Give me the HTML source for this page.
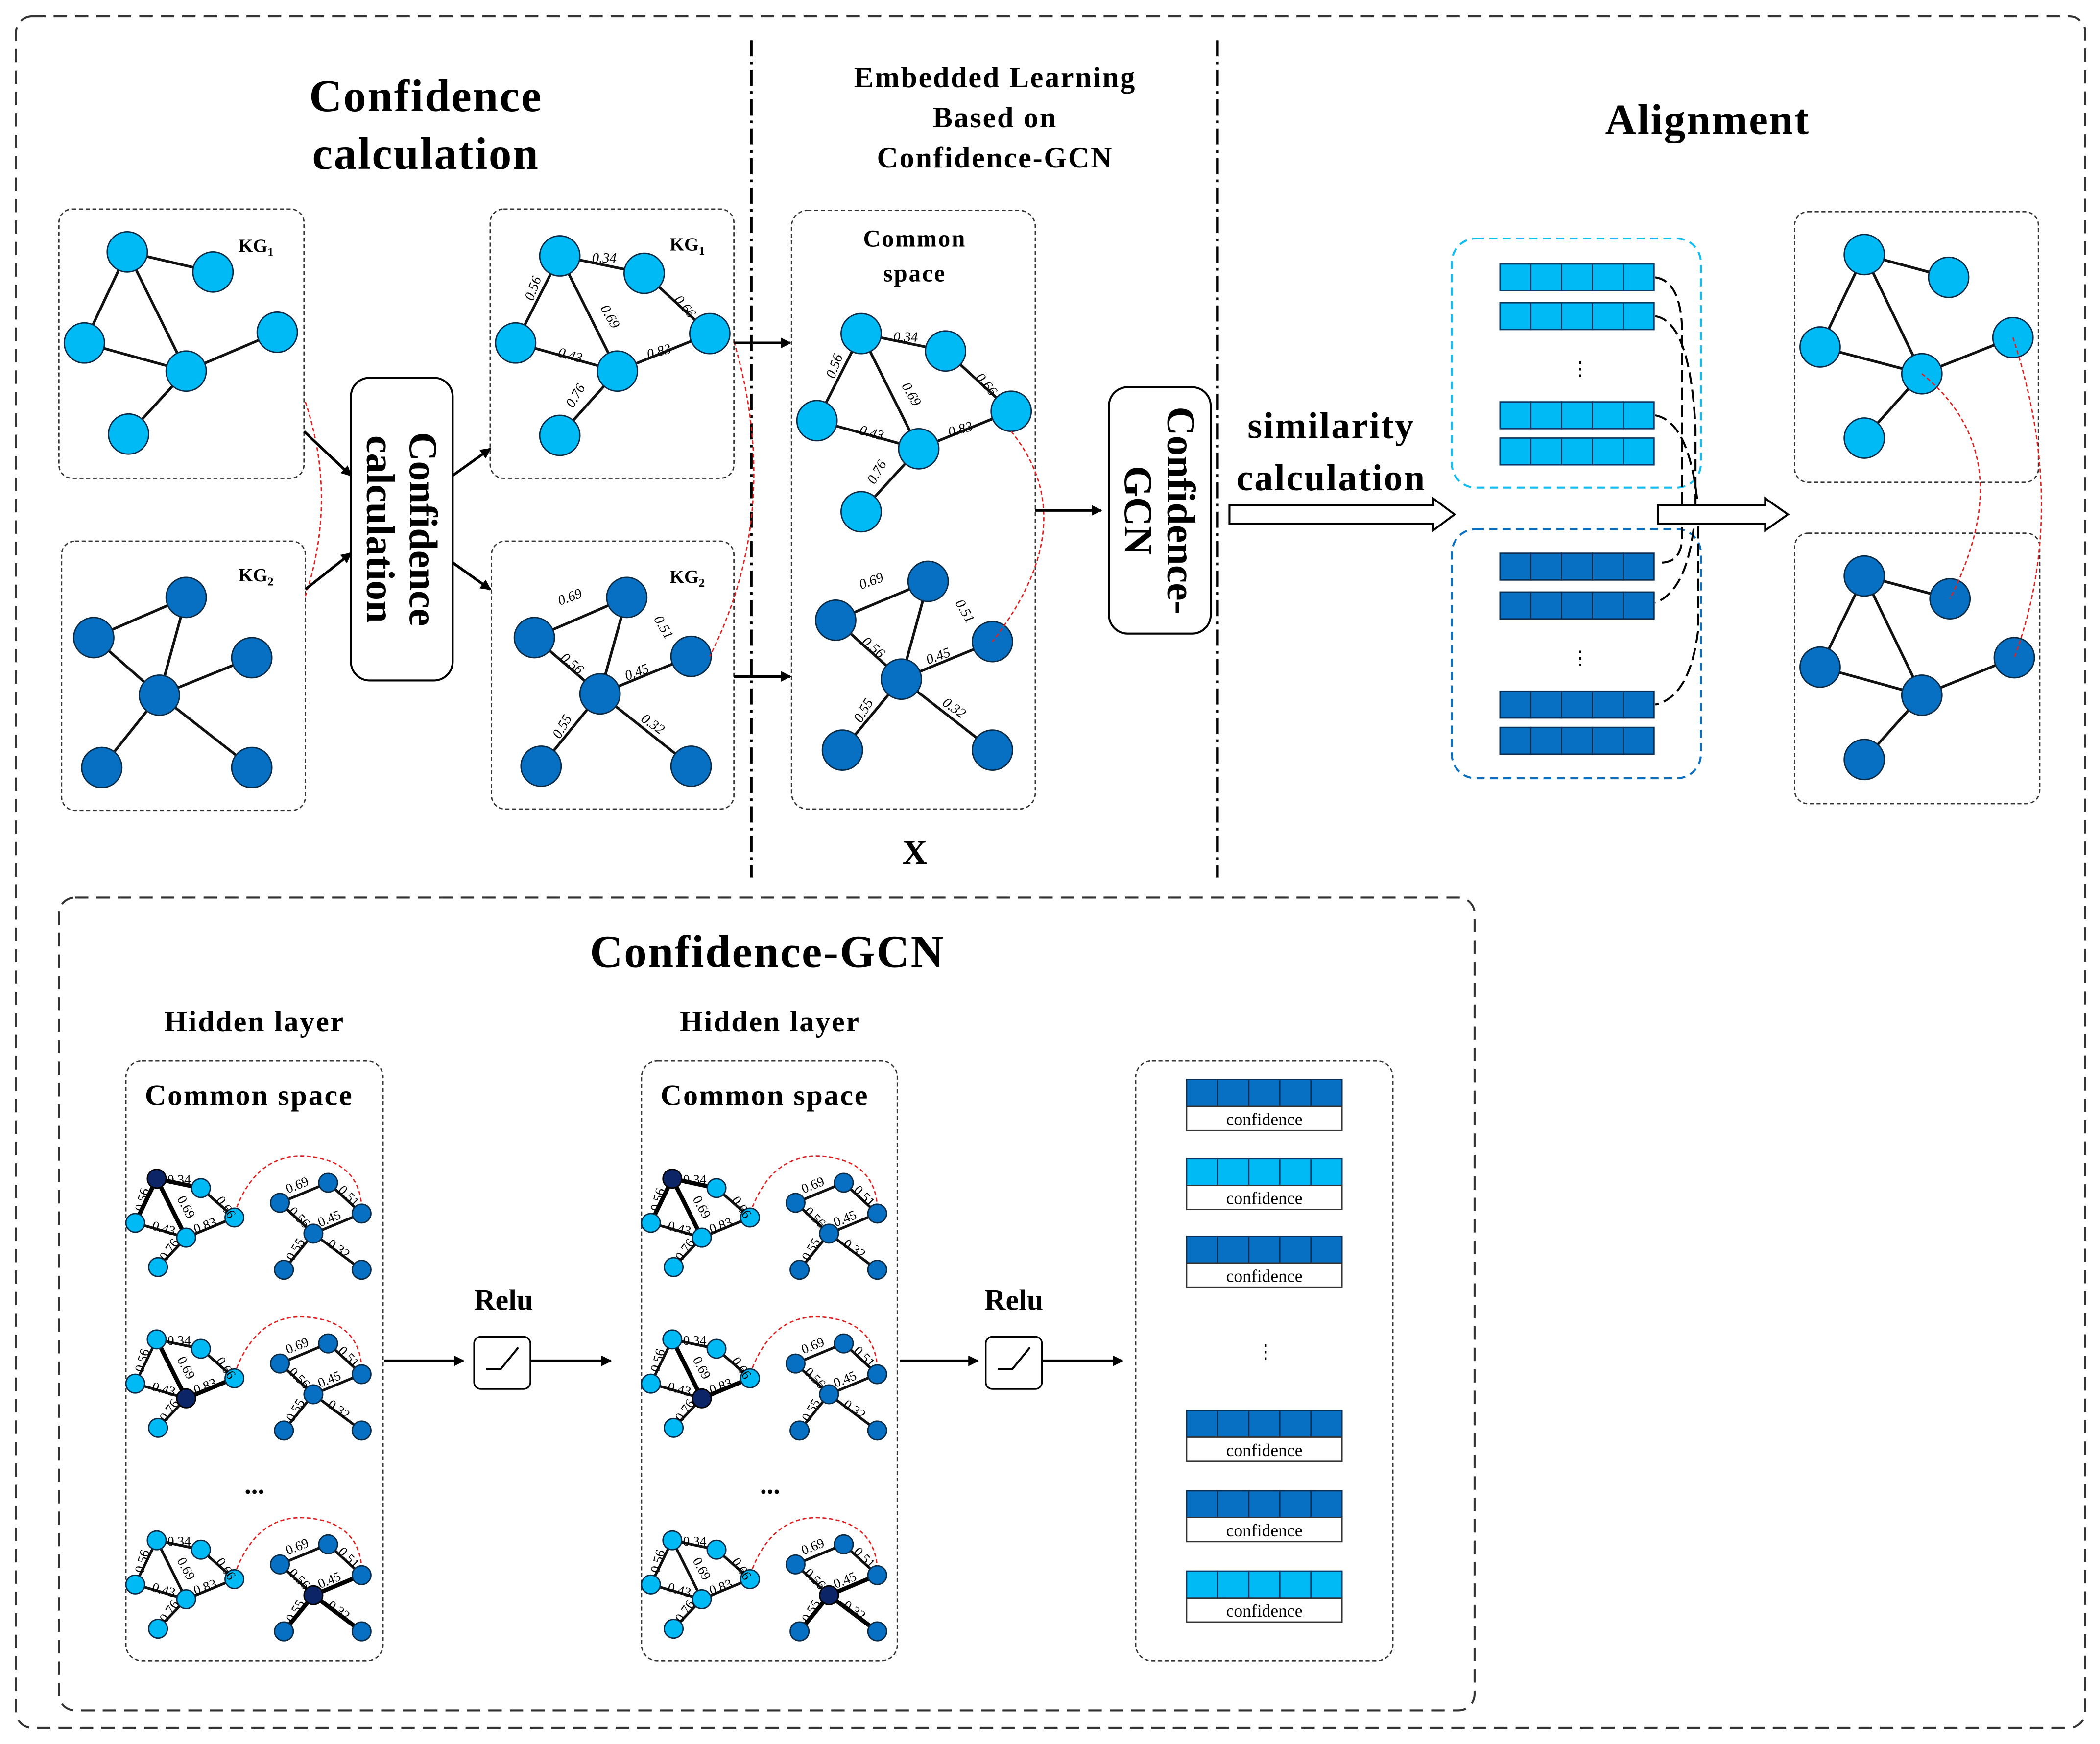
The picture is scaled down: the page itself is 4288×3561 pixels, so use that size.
<!DOCTYPE html>
<html><head><meta charset="utf-8"><style>
html,body{margin:0;padding:0;background:#fff;}
svg{display:block;}
text{font-family:"Liberation Serif",serif;fill:#000;}
.b{font-weight:bold;}
.box{fill:none;stroke:#333;stroke-width:1;stroke-dasharray:3,2;}
.e{stroke:#111;stroke-width:2;fill:none;}
.t{stroke:#000;stroke-width:3.2;fill:none;}
.L{fill:#00baf6;stroke:#0b2a44;stroke-width:1;}
.D{fill:#0770c2;stroke:#0b2a44;stroke-width:1;}
.N{fill:#0c2566;stroke:#000;stroke-width:1;}
.red{fill:none;stroke:#e02020;stroke-width:1;stroke-dasharray:3,2;}
.w{font-size:10.5px;font-style:italic;}
.m{font-size:10px;}
.ar{stroke:#000;stroke-width:2;fill:none;marker-end:url(#ah);}
.vl rect{fill:#00baf6;stroke:#0b3a66;stroke-width:1;}
.vd rect{fill:#0770c2;stroke:#0b2f55;stroke-width:1;}
</style></head><body>
<svg width="4288" height="3561" viewBox="0 0 1568 1302" xmlns="http://www.w3.org/2000/svg">
<defs><marker id="ah" markerWidth="8" markerHeight="8" refX="7" refY="4" orient="auto" markerUnits="userSpaceOnUse"><path d="M0,0 L8,4 L0,8 z" fill="#000"/></marker></defs>
<rect width="1568" height="1302" fill="#fff"/>
<rect x="12" y="12" width="1545" height="1278" rx="12" fill="none" stroke="#333" stroke-width="1.5" stroke-dasharray="10,6"/>
<line x1="561" y1="30" x2="561" y2="655" stroke="#000" stroke-width="2" stroke-dasharray="12,4,2,4"/>
<line x1="909" y1="30" x2="909" y2="655" stroke="#000" stroke-width="2" stroke-dasharray="12,4,2,4"/>

<text x="318" y="83" class="b" font-size="34" text-anchor="middle" letter-spacing="1">Confidence</text>
<text x="318" y="126" class="b" font-size="34" text-anchor="middle" letter-spacing="1">calculation</text>
<text x="743" y="65" class="b" font-size="22" text-anchor="middle" letter-spacing="1">Embedded Learning</text>
<text x="743" y="95" class="b" font-size="22" text-anchor="middle" letter-spacing="1">Based on</text>
<text x="743" y="125" class="b" font-size="22" text-anchor="middle" letter-spacing="1">Confidence-GCN</text>
<text x="1275" y="100" class="b" font-size="32" text-anchor="middle" letter-spacing="1">Alignment</text>

<!-- KG1 -->
<rect class="box" x="44" y="156" width="183" height="201" rx="10"/>
<path class="e" d="M95,188L159,203M95,188L63,256M95,188L139,277M63,256L139,277M139,277L207,248M139,277L96,324"/>
<g class="L"><circle cx="95" cy="188" r="15"/><circle cx="159" cy="203" r="15"/><circle cx="207" cy="248" r="15"/><circle cx="63" cy="256" r="15"/><circle cx="139" cy="277" r="15"/><circle cx="96" cy="324" r="15"/></g>
<text x="178" y="188" class="b" font-size="14">KG<tspan font-size="9" dy="3">1</tspan></text>
<!-- KG2 -->
<rect class="box" x="46" y="404" width="182" height="201" rx="10"/>
<path class="e" d="M70,476L139,446M139,446L119,519M70,476L119,519M119,519L188,491M119,519L76,573M119,519L188,573"/>
<g class="D"><circle cx="139" cy="446" r="15"/><circle cx="70" cy="476" r="15"/><circle cx="188" cy="491" r="15"/><circle cx="119" cy="519" r="15"/><circle cx="76" cy="573" r="15"/><circle cx="188" cy="573" r="15"/></g>
<text x="178" y="434" class="b" font-size="14">KG<tspan font-size="9" dy="3">2</tspan></text>
<path class="red" d="M228,300 Q252,372 228,445"/>

<rect x="262" y="282" width="76" height="226" rx="14" fill="#fff" stroke="#000" stroke-width="1.5"/>
<text transform="translate(300,395) rotate(90)" class="b" font-size="30" text-anchor="middle"><tspan x="0" y="-6">Confidence</tspan><tspan x="0" y="26">calculation</tspan></text>
<line class="ar" x1="227" y1="322" x2="262" y2="355"/>
<line class="ar" x1="228" y1="440" x2="262" y2="413"/>
<line class="ar" x1="338" y1="355" x2="366" y2="335"/>
<line class="ar" x1="338" y1="420" x2="366" y2="440"/>

<!-- weighted KG1 -->
<rect class="box" x="366" y="156" width="182" height="201" rx="10"/>
<path class="e" d="M418,191L481,204M418,191L385,256M418,191L461,277M385,256L461,277M461,277L530,249M461,277L418,325M481,204L530,249"/>
<g class="L"><circle cx="418" cy="191" r="15"/><circle cx="481" cy="204" r="15"/><circle cx="530" cy="249" r="15"/><circle cx="385" cy="256" r="15"/><circle cx="461" cy="277" r="15"/><circle cx="418" cy="325" r="15"/></g>
<text x="500" y="187" class="b" font-size="14">KG<tspan font-size="9" dy="3">1</tspan></text>
<g class="w"><text x="442" y="196">0.34</text><text transform="translate(398,225) rotate(-70)">0.56</text><text transform="translate(448,230) rotate(60)">0.69</text><text transform="translate(503,224) rotate(50)">0.66</text><text x="416" y="266" transform="rotate(15,416,266)">0.43</text><text x="484" y="268" transform="rotate(-15,484,268)">0.83</text><text transform="translate(428,305) rotate(-60)">0.76</text></g>
<!-- weighted KG2 -->
<rect class="box" x="367" y="404" width="181" height="200" rx="10"/>
<path class="e" d="M399,476L468,446M468,446L448,518M399,476L448,518M448,518L516,490M448,518L404,572M448,518L516,572"/>
<g class="D"><circle cx="468" cy="446" r="15"/><circle cx="399" cy="476" r="15"/><circle cx="516" cy="490" r="15"/><circle cx="448" cy="518" r="15"/><circle cx="404" cy="572" r="15"/><circle cx="516" cy="572" r="15"/></g>
<text x="500" y="435" class="b" font-size="14">KG<tspan font-size="9" dy="3">2</tspan></text>
<g class="w"><text x="418" y="452" transform="rotate(-20,418,452)">0.69</text><text transform="translate(488,462) rotate(60)">0.51</text><text transform="translate(418,492) rotate(40)">0.56</text><text x="468" y="508" transform="rotate(-20,468,508)">0.45</text><text transform="translate(418,552) rotate(-60)">0.55</text><text transform="translate(478,538) rotate(35)">0.32</text></g>
<path class="red" d="M548,255 Q585,380 530,490"/>
<line class="ar" x1="548" y1="256" x2="590" y2="256"/>
<line class="ar" x1="548" y1="505" x2="590" y2="505"/>

<!-- common space -->
<rect class="box" x="591" y="157" width="182" height="447" rx="12"/>
<text x="683" y="184" class="b" font-size="18" text-anchor="middle" letter-spacing="1">Common</text>
<text x="683" y="210" class="b" font-size="18" text-anchor="middle" letter-spacing="1">space</text>
<path class="e" d="M643,249L706,262M643,249L610,314M643,249L686,335M610,314L686,335M686,335L755,307M686,335L643,382M706,262L755,307"/>
<g class="L"><circle cx="643" cy="249" r="15"/><circle cx="706" cy="262" r="15"/><circle cx="755" cy="307" r="15"/><circle cx="610" cy="314" r="15"/><circle cx="686" cy="335" r="15"/><circle cx="643" cy="382" r="15"/></g>
<g class="w"><text x="667" y="255">0.34</text><text transform="translate(623,283) rotate(-70)">0.56</text><text transform="translate(673,288) rotate(60)">0.69</text><text transform="translate(728,282) rotate(50)">0.66</text><text x="641" y="324" transform="rotate(15,641,324)">0.43</text><text x="709" y="326" transform="rotate(-15,709,326)">0.83</text><text transform="translate(653,362) rotate(-60)">0.76</text></g>
<path class="e" d="M624,463L693,434M693,434L673,507M624,463L673,507M673,507L741,479M673,507L629,560M673,507L741,560"/>
<g class="D"><circle cx="693" cy="434" r="15"/><circle cx="624" cy="463" r="15"/><circle cx="741" cy="479" r="15"/><circle cx="673" cy="507" r="15"/><circle cx="629" cy="560" r="15"/><circle cx="741" cy="560" r="15"/></g>
<g class="w"><text x="643" y="440" transform="rotate(-20,643,440)">0.69</text><text transform="translate(713,450) rotate(60)">0.51</text><text transform="translate(643,480) rotate(40)">0.56</text><text x="693" y="496" transform="rotate(-20,693,496)">0.45</text><text transform="translate(643,540) rotate(-60)">0.55</text><text transform="translate(703,526) rotate(35)">0.32</text></g>
<path class="red" d="M755,322 Q810,390 741,479"/>
<text x="683" y="645" class="b" font-size="26" text-anchor="middle">X</text>
<line class="ar" x1="773" y1="381" x2="822" y2="381"/>

<rect x="828" y="289" width="76" height="184" rx="14" fill="#fff" stroke="#000" stroke-width="1.5"/>
<text transform="translate(866,381) rotate(90)" class="b" font-size="30" text-anchor="middle"><tspan x="0" y="-6">Confidence-</tspan><tspan x="0" y="26">GCN</tspan></text>
<text x="994" y="327" class="b" font-size="28" text-anchor="middle" letter-spacing="1">similarity</text>
<text x="994" y="366" class="b" font-size="28" text-anchor="middle" letter-spacing="1">calculation</text>
<path d="M918,377 L1070,377 L1070,372 L1086,384 L1070,396 L1070,391 L918,391 Z" fill="#fff" stroke="#000" stroke-width="1.5"/>

<!-- vectors -->
<rect x="1084" y="178" width="186" height="186" rx="18" fill="none" stroke="#13bdf2" stroke-width="1.5" stroke-dasharray="6,4"/>
<rect x="1084" y="395" width="186" height="186" rx="18" fill="none" stroke="#0a6fc0" stroke-width="1.5" stroke-dasharray="6,4"/>
<g class="vl"><g><rect x="1120" y="197" width="23" height="20"/><rect x="1143" y="197" width="23" height="20"/><rect x="1166" y="197" width="23" height="20"/><rect x="1189" y="197" width="23" height="20"/><rect x="1212" y="197" width="23" height="20"/></g>
<g transform="translate(0,29)"><rect x="1120" y="197" width="23" height="20"/><rect x="1143" y="197" width="23" height="20"/><rect x="1166" y="197" width="23" height="20"/><rect x="1189" y="197" width="23" height="20"/><rect x="1212" y="197" width="23" height="20"/></g>
<g transform="translate(0,103)"><rect x="1120" y="197" width="23" height="20"/><rect x="1143" y="197" width="23" height="20"/><rect x="1166" y="197" width="23" height="20"/><rect x="1189" y="197" width="23" height="20"/><rect x="1212" y="197" width="23" height="20"/></g>
<g transform="translate(0,130)"><rect x="1120" y="197" width="23" height="20"/><rect x="1143" y="197" width="23" height="20"/><rect x="1166" y="197" width="23" height="20"/><rect x="1189" y="197" width="23" height="20"/><rect x="1212" y="197" width="23" height="20"/></g></g>
<g class="vd"><g transform="translate(0,216)"><rect x="1120" y="197" width="23" height="20"/><rect x="1143" y="197" width="23" height="20"/><rect x="1166" y="197" width="23" height="20"/><rect x="1189" y="197" width="23" height="20"/><rect x="1212" y="197" width="23" height="20"/></g>
<g transform="translate(0,245)"><rect x="1120" y="197" width="23" height="20"/><rect x="1143" y="197" width="23" height="20"/><rect x="1166" y="197" width="23" height="20"/><rect x="1189" y="197" width="23" height="20"/><rect x="1212" y="197" width="23" height="20"/></g>
<g transform="translate(0,319)"><rect x="1120" y="197" width="23" height="20"/><rect x="1143" y="197" width="23" height="20"/><rect x="1166" y="197" width="23" height="20"/><rect x="1189" y="197" width="23" height="20"/><rect x="1212" y="197" width="23" height="20"/></g>
<g transform="translate(0,346)"><rect x="1120" y="197" width="23" height="20"/><rect x="1143" y="197" width="23" height="20"/><rect x="1166" y="197" width="23" height="20"/><rect x="1189" y="197" width="23" height="20"/><rect x="1212" y="197" width="23" height="20"/></g></g>
<text x="1180" y="280" font-size="14" fill="#13bdf2" text-anchor="middle">⋮</text>
<text x="1180" y="496" font-size="14" fill="#0a6fc0" text-anchor="middle">⋮</text>
<g fill="none" stroke="#000" stroke-width="1.5" stroke-dasharray="9,4">
<path d="M1236,207 Q1256,210 1256,250 L1256,400 Q1256,420 1240,420"/>
<path d="M1236,236 Q1262,240 1266,320 L1266,380 Q1262,440 1236,450"/>
<path d="M1236,310 Q1262,315 1268,380"/>
<path d="M1268,380 L1268,470 Q1262,520 1236,526"/>
</g>
<path d="M1238,377 L1318,377 L1318,372 L1335,384 L1318,396 L1318,391 L1238,391 Z" fill="#fff" stroke="#000" stroke-width="1.5"/>

<!-- aligned -->
<rect class="box" x="1340" y="158" width="182" height="202" rx="10"/>
<path class="e" d="M1392,190L1455,207M1392,190L1359,259M1392,190L1435,279M1359,259L1435,279M1435,279L1503,252M1435,279L1392,327"/>
<g class="L"><circle cx="1392" cy="190" r="15"/><circle cx="1455" cy="207" r="15"/><circle cx="1503" cy="252" r="15"/><circle cx="1359" cy="259" r="15"/><circle cx="1435" cy="279" r="15"/><circle cx="1392" cy="327" r="15"/></g>
<rect class="box" x="1340" y="398" width="183" height="202" rx="10"/>
<path class="e" d="M1392,430L1359,498M1392,430L1456,447M1392,430L1435,519M1359,498L1435,519M1435,519L1504,491M1435,519L1392,567"/>
<g class="D"><circle cx="1392" cy="430" r="15"/><circle cx="1456" cy="447" r="15"/><circle cx="1359" cy="498" r="15"/><circle cx="1504" cy="491" r="15"/><circle cx="1435" cy="519" r="15"/><circle cx="1392" cy="567" r="15"/></g>
<path class="red" d="M1435,279 Q1510,340 1456,447"/>
<path class="red" d="M1503,252 Q1545,380 1504,491"/>

<!-- bottom -->
<rect x="44" y="670" width="1057" height="607" rx="12" fill="none" stroke="#333" stroke-width="1.5" stroke-dasharray="10,6"/>
<text x="573" y="722" class="b" font-size="34" text-anchor="middle" letter-spacing="1">Confidence-GCN</text>
<text x="190" y="770" class="b" font-size="22" text-anchor="middle" letter-spacing="1">Hidden layer</text>
<text x="575" y="770" class="b" font-size="22" text-anchor="middle" letter-spacing="1">Hidden layer</text>
<rect class="box" x="94" y="792" width="192" height="448" rx="12"/>
<rect class="box" x="479" y="792" width="191" height="448" rx="12"/>
<text x="186" y="825" class="b" font-size="22" text-anchor="middle" letter-spacing="1">Common space</text>
<text x="571" y="825" class="b" font-size="22" text-anchor="middle" letter-spacing="1">Common space</text>
<text x="190" y="1115" class="b" font-size="20" text-anchor="middle">...</text>
<text x="575" y="1115" class="b" font-size="20" text-anchor="middle">...</text>

<!-- mini graph type A (highlight top-left light node) -->
<g transform="translate(94,860)">
<path class="e" d="M7,53L45,64M45,64L81,49M45,64L24,86M56,27L81,49M115,38L151,23M151,23L176,46M115,38L140,61M140,61L176,46M140,61L118,88M140,61L176,88"/>
<path class="t" d="M23,20L56,27M23,20L7,53M23,20L45,64"/>
<path class="red" d="M81,46 Q100,-8 150,6 Q174,14 176,40"/>
<g class="L"><circle cx="56" cy="27" r="7"/><circle cx="81" cy="49" r="7"/><circle cx="7" cy="53" r="7"/><circle cx="45" cy="64" r="7"/><circle cx="24" cy="86" r="7"/></g><circle class="N" cx="23" cy="20" r="7"/>
<g class="D"><circle cx="151" cy="23" r="7"/><circle cx="115" cy="38" r="7"/><circle cx="176" cy="46" r="7"/><circle cx="140" cy="61" r="7"/><circle cx="118" cy="88" r="7"/><circle cx="176" cy="88" r="7"/></g>
<g class="m"><text x="31" y="24">0.34</text><text transform="translate(13,45) rotate(-75)">0.56</text><text transform="translate(38,35) rotate(62)">0.69</text><text transform="translate(67,36) rotate(55)">0.66</text><text x="19" y="58" transform="rotate(15,19,58)">0.43</text><text x="52" y="61" transform="rotate(-20,52,61)">0.83</text><text transform="translate(30,82) rotate(-55)">0.76</text><text x="121" y="31" transform="rotate(-22,121,31)">0.69</text><text transform="translate(158,29) rotate(45)">0.51</text><text transform="translate(121,45) rotate(45)">0.56</text><text x="145" y="56" transform="rotate(-22,145,56)">0.45</text><text transform="translate(125,82) rotate(-60)">0.55</text><text transform="translate(150,70) rotate(35)">0.32</text></g>
</g>
<!-- type B (highlight center light node) -->
<g transform="translate(94,980)">
<path class="e" d="M23,20L56,27M23,20L7,53M7,53L45,64M45,64L24,86M56,27L81,49M115,38L151,23M151,23L176,46M115,38L140,61M140,61L176,46M140,61L118,88M140,61L176,88"/>
<path class="t" d="M23,20L45,64M45,64L81,49"/>
<path class="red" d="M81,46 Q100,-8 150,6 Q174,14 176,40"/>
<g class="L"><circle cx="23" cy="20" r="7"/><circle cx="56" cy="27" r="7"/><circle cx="81" cy="49" r="7"/><circle cx="7" cy="53" r="7"/><circle cx="24" cy="86" r="7"/></g><circle class="N" cx="45" cy="64" r="7"/>
<g class="D"><circle cx="151" cy="23" r="7"/><circle cx="115" cy="38" r="7"/><circle cx="176" cy="46" r="7"/><circle cx="140" cy="61" r="7"/><circle cx="118" cy="88" r="7"/><circle cx="176" cy="88" r="7"/></g>
<g class="m"><text x="31" y="24">0.34</text><text transform="translate(13,45) rotate(-75)">0.56</text><text transform="translate(38,35) rotate(62)">0.69</text><text transform="translate(67,36) rotate(55)">0.66</text><text x="19" y="58" transform="rotate(15,19,58)">0.43</text><text x="52" y="61" transform="rotate(-20,52,61)">0.83</text><text transform="translate(30,82) rotate(-55)">0.76</text><text x="121" y="31" transform="rotate(-22,121,31)">0.69</text><text transform="translate(158,29) rotate(45)">0.51</text><text transform="translate(121,45) rotate(45)">0.56</text><text x="145" y="56" transform="rotate(-22,145,56)">0.45</text><text transform="translate(125,82) rotate(-60)">0.55</text><text transform="translate(150,70) rotate(35)">0.32</text></g>
</g>
<!-- type C (highlight dark center) -->
<g transform="translate(94,1130)">
<path class="e" d="M23,20L56,27M23,20L7,53M23,20L45,64M7,53L45,64M45,64L81,49M45,64L24,86M56,27L81,49M115,38L151,23M151,23L176,46M115,38L140,61"/>
<path class="t" d="M140,61L176,46M140,61L118,88M140,61L176,88"/>
<path class="red" d="M81,46 Q100,-8 150,6 Q174,14 176,40"/>
<g class="L"><circle cx="23" cy="20" r="7"/><circle cx="56" cy="27" r="7"/><circle cx="81" cy="49" r="7"/><circle cx="7" cy="53" r="7"/><circle cx="45" cy="64" r="7"/><circle cx="24" cy="86" r="7"/></g>
<g class="D"><circle cx="151" cy="23" r="7"/><circle cx="115" cy="38" r="7"/><circle cx="176" cy="46" r="7"/><circle cx="118" cy="88" r="7"/><circle cx="176" cy="88" r="7"/></g><circle class="N" cx="140" cy="61" r="7"/>
<g class="m"><text x="31" y="24">0.34</text><text transform="translate(13,45) rotate(-75)">0.56</text><text transform="translate(38,35) rotate(62)">0.69</text><text transform="translate(67,36) rotate(55)">0.66</text><text x="19" y="58" transform="rotate(15,19,58)">0.43</text><text x="52" y="61" transform="rotate(-20,52,61)">0.83</text><text transform="translate(30,82) rotate(-55)">0.76</text><text x="121" y="31" transform="rotate(-22,121,31)">0.69</text><text transform="translate(158,29) rotate(45)">0.51</text><text transform="translate(121,45) rotate(45)">0.56</text><text x="145" y="56" transform="rotate(-22,145,56)">0.45</text><text transform="translate(125,82) rotate(-60)">0.55</text><text transform="translate(150,70) rotate(35)">0.32</text></g>
</g>
<!-- second column -->
<g transform="translate(479,860)">
<path class="e" d="M7,53L45,64M45,64L81,49M45,64L24,86M56,27L81,49M115,38L151,23M151,23L176,46M115,38L140,61M140,61L176,46M140,61L118,88M140,61L176,88"/>
<path class="t" d="M23,20L56,27M23,20L7,53M23,20L45,64"/>
<path class="red" d="M81,46 Q100,-8 150,6 Q174,14 176,40"/>
<g class="L"><circle cx="56" cy="27" r="7"/><circle cx="81" cy="49" r="7"/><circle cx="7" cy="53" r="7"/><circle cx="45" cy="64" r="7"/><circle cx="24" cy="86" r="7"/></g><circle class="N" cx="23" cy="20" r="7"/>
<g class="D"><circle cx="151" cy="23" r="7"/><circle cx="115" cy="38" r="7"/><circle cx="176" cy="46" r="7"/><circle cx="140" cy="61" r="7"/><circle cx="118" cy="88" r="7"/><circle cx="176" cy="88" r="7"/></g>
<g class="m"><text x="31" y="24">0.34</text><text transform="translate(13,45) rotate(-75)">0.56</text><text transform="translate(38,35) rotate(62)">0.69</text><text transform="translate(67,36) rotate(55)">0.66</text><text x="19" y="58" transform="rotate(15,19,58)">0.43</text><text x="52" y="61" transform="rotate(-20,52,61)">0.83</text><text transform="translate(30,82) rotate(-55)">0.76</text><text x="121" y="31" transform="rotate(-22,121,31)">0.69</text><text transform="translate(158,29) rotate(45)">0.51</text><text transform="translate(121,45) rotate(45)">0.56</text><text x="145" y="56" transform="rotate(-22,145,56)">0.45</text><text transform="translate(125,82) rotate(-60)">0.55</text><text transform="translate(150,70) rotate(35)">0.32</text></g>
</g>
<g transform="translate(479,980)">
<path class="e" d="M23,20L56,27M23,20L7,53M7,53L45,64M45,64L24,86M56,27L81,49M115,38L151,23M151,23L176,46M115,38L140,61M140,61L176,46M140,61L118,88M140,61L176,88"/>
<path class="t" d="M23,20L45,64M45,64L81,49"/>
<path class="red" d="M81,46 Q100,-8 150,6 Q174,14 176,40"/>
<g class="L"><circle cx="23" cy="20" r="7"/><circle cx="56" cy="27" r="7"/><circle cx="81" cy="49" r="7"/><circle cx="7" cy="53" r="7"/><circle cx="24" cy="86" r="7"/></g><circle class="N" cx="45" cy="64" r="7"/>
<g class="D"><circle cx="151" cy="23" r="7"/><circle cx="115" cy="38" r="7"/><circle cx="176" cy="46" r="7"/><circle cx="140" cy="61" r="7"/><circle cx="118" cy="88" r="7"/><circle cx="176" cy="88" r="7"/></g>
<g class="m"><text x="31" y="24">0.34</text><text transform="translate(13,45) rotate(-75)">0.56</text><text transform="translate(38,35) rotate(62)">0.69</text><text transform="translate(67,36) rotate(55)">0.66</text><text x="19" y="58" transform="rotate(15,19,58)">0.43</text><text x="52" y="61" transform="rotate(-20,52,61)">0.83</text><text transform="translate(30,82) rotate(-55)">0.76</text><text x="121" y="31" transform="rotate(-22,121,31)">0.69</text><text transform="translate(158,29) rotate(45)">0.51</text><text transform="translate(121,45) rotate(45)">0.56</text><text x="145" y="56" transform="rotate(-22,145,56)">0.45</text><text transform="translate(125,82) rotate(-60)">0.55</text><text transform="translate(150,70) rotate(35)">0.32</text></g>
</g>
<g transform="translate(479,1130)">
<path class="e" d="M23,20L56,27M23,20L7,53M23,20L45,64M7,53L45,64M45,64L81,49M45,64L24,86M56,27L81,49M115,38L151,23M151,23L176,46M115,38L140,61"/>
<path class="t" d="M140,61L176,46M140,61L118,88M140,61L176,88"/>
<path class="red" d="M81,46 Q100,-8 150,6 Q174,14 176,40"/>
<g class="L"><circle cx="23" cy="20" r="7"/><circle cx="56" cy="27" r="7"/><circle cx="81" cy="49" r="7"/><circle cx="7" cy="53" r="7"/><circle cx="45" cy="64" r="7"/><circle cx="24" cy="86" r="7"/></g>
<g class="D"><circle cx="151" cy="23" r="7"/><circle cx="115" cy="38" r="7"/><circle cx="176" cy="46" r="7"/><circle cx="118" cy="88" r="7"/><circle cx="176" cy="88" r="7"/></g><circle class="N" cx="140" cy="61" r="7"/>
<g class="m"><text x="31" y="24">0.34</text><text transform="translate(13,45) rotate(-75)">0.56</text><text transform="translate(38,35) rotate(62)">0.69</text><text transform="translate(67,36) rotate(55)">0.66</text><text x="19" y="58" transform="rotate(15,19,58)">0.43</text><text x="52" y="61" transform="rotate(-20,52,61)">0.83</text><text transform="translate(30,82) rotate(-55)">0.76</text><text x="121" y="31" transform="rotate(-22,121,31)">0.69</text><text transform="translate(158,29) rotate(45)">0.51</text><text transform="translate(121,45) rotate(45)">0.56</text><text x="145" y="56" transform="rotate(-22,145,56)">0.45</text><text transform="translate(125,82) rotate(-60)">0.55</text><text transform="translate(150,70) rotate(35)">0.32</text></g>
</g>

<!-- relu -->
<text x="376" y="978" class="b" font-size="22" text-anchor="middle">Relu</text>
<text x="757" y="978" class="b" font-size="22" text-anchor="middle">Relu</text>
<line class="ar" x1="287" y1="1016" x2="346" y2="1016"/>
<rect x="354" y="998" width="42" height="39" rx="5" fill="#fff" stroke="#000" stroke-width="1.2"/>
<path d="M363,1022 L374,1022 L387,1006" stroke="#000" stroke-width="1.5" fill="none"/>
<line class="ar" x1="396" y1="1016" x2="456" y2="1016"/>
<line class="ar" x1="672" y1="1016" x2="730" y2="1016"/>
<rect x="736" y="998" width="42" height="39" rx="5" fill="#fff" stroke="#000" stroke-width="1.2"/>
<path d="M745,1022 L756,1022 L769,1006" stroke="#000" stroke-width="1.5" fill="none"/>
<line class="ar" x1="778" y1="1016" x2="838" y2="1016"/>

<!-- output -->
<rect class="box" x="848" y="792" width="192" height="448" rx="12"/>
<g>
<g class="vd"><rect x="886" y="806" width="23.2" height="20"/><rect x="909.2" y="806" width="23.2" height="20"/><rect x="932.4" y="806" width="23.2" height="20"/><rect x="955.6" y="806" width="23.2" height="20"/><rect x="978.8" y="806" width="23.2" height="20"/></g>
<rect x="886" y="826" width="116" height="18" fill="#fff" stroke="#333"/><text x="944" y="840" font-size="13" text-anchor="middle">confidence</text></g>
<g transform="translate(0,59)"><g class="vl"><rect x="886" y="806" width="23.2" height="20"/><rect x="909.2" y="806" width="23.2" height="20"/><rect x="932.4" y="806" width="23.2" height="20"/><rect x="955.6" y="806" width="23.2" height="20"/><rect x="978.8" y="806" width="23.2" height="20"/></g>
<rect x="886" y="826" width="116" height="18" fill="#fff" stroke="#333"/><text x="944" y="840" font-size="13" text-anchor="middle">confidence</text></g>
<g transform="translate(0,117)"><g class="vd"><rect x="886" y="806" width="23.2" height="20"/><rect x="909.2" y="806" width="23.2" height="20"/><rect x="932.4" y="806" width="23.2" height="20"/><rect x="955.6" y="806" width="23.2" height="20"/><rect x="978.8" y="806" width="23.2" height="20"/></g>
<rect x="886" y="826" width="116" height="18" fill="#fff" stroke="#333"/><text x="944" y="840" font-size="13" text-anchor="middle">confidence</text></g>
<text x="945" y="1014" font-size="14" fill="#0a6fc0" text-anchor="middle">⋮</text>
<g transform="translate(0,247)"><g class="vd"><rect x="886" y="806" width="23.2" height="20"/><rect x="909.2" y="806" width="23.2" height="20"/><rect x="932.4" y="806" width="23.2" height="20"/><rect x="955.6" y="806" width="23.2" height="20"/><rect x="978.8" y="806" width="23.2" height="20"/></g>
<rect x="886" y="826" width="116" height="18" fill="#fff" stroke="#333"/><text x="944" y="840" font-size="13" text-anchor="middle">confidence</text></g>
<g transform="translate(0,307)"><g class="vd"><rect x="886" y="806" width="23.2" height="20"/><rect x="909.2" y="806" width="23.2" height="20"/><rect x="932.4" y="806" width="23.2" height="20"/><rect x="955.6" y="806" width="23.2" height="20"/><rect x="978.8" y="806" width="23.2" height="20"/></g>
<rect x="886" y="826" width="116" height="18" fill="#fff" stroke="#333"/><text x="944" y="840" font-size="13" text-anchor="middle">confidence</text></g>
<g transform="translate(0,367)"><g class="vl"><rect x="886" y="806" width="23.2" height="20"/><rect x="909.2" y="806" width="23.2" height="20"/><rect x="932.4" y="806" width="23.2" height="20"/><rect x="955.6" y="806" width="23.2" height="20"/><rect x="978.8" y="806" width="23.2" height="20"/></g>
<rect x="886" y="826" width="116" height="18" fill="#fff" stroke="#333"/><text x="944" y="840" font-size="13" text-anchor="middle">confidence</text></g>
</svg>
</body></html>
